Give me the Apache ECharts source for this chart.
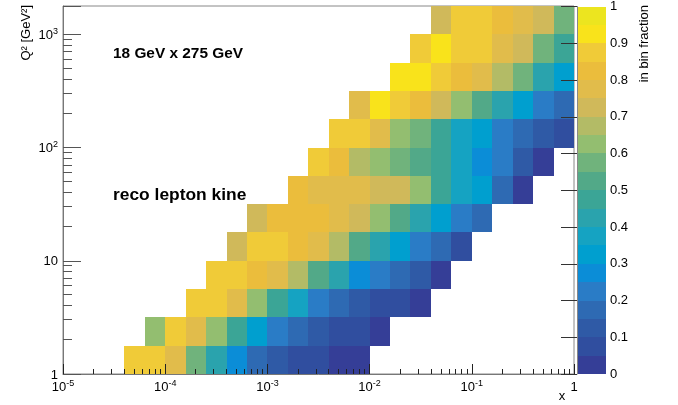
<!DOCTYPE html>
<html>
<head>
<meta charset="utf-8">
<script src="https://cdn.jsdelivr.net/npm/echarts@6/dist/echarts.min.js"></script>
<style>
  html, body { margin: 0; padding: 0; background: #fff; }
  #chart { width: 678px; height: 405px; }
</style>
</head>
<body>
<div id="chart"></div>
<script>
const FONT = '"Liberation Sans", Arial, Helvetica, sans-serif';

// binning: 25 log bins in x (1e-5 .. 1), 13 log bins in Q2 (1 .. 10^3.25)
const xEdges = Array.from({ length: 26 }, (_, k) => Math.pow(10, -5 + 0.2 * k));
const yEdges = Array.from({ length: 14 }, (_, k) => Math.pow(10, 0.25 * k));

// first filled x bin of every Q2 row, bottom row first
const rowFirstBin = [3, 4, 6, 7, 8, 9, 11, 12, 13, 14, 16, 17, 18];

// in bin fraction, one list per Q2 row (bottom row first)
const rowFraction = [
  [0.88, 0.88, 0.78, 0.58, 0.43, 0.28, 0.18, 0.13, 0.08, 0.08, 0.03, 0.03],
  [0.63, 0.88, 0.78, 0.63, 0.48, 0.33, 0.23, 0.18, 0.13, 0.08, 0.08, 0.03],
  [0.88, 0.88, 0.78, 0.63, 0.48, 0.38, 0.23, 0.18, 0.13, 0.08, 0.08, 0.03],
  [0.88, 0.88, 0.83, 0.78, 0.68, 0.53, 0.43, 0.28, 0.23, 0.18, 0.13, 0.03],
  [0.73, 0.88, 0.88, 0.83, 0.78, 0.68, 0.53, 0.43, 0.33, 0.23, 0.18, 0.08],
  [0.73, 0.83, 0.83, 0.83, 0.78, 0.73, 0.63, 0.53, 0.43, 0.33, 0.23, 0.18],
  [0.83, 0.78, 0.78, 0.78, 0.73, 0.73, 0.63, 0.48, 0.38, 0.33, 0.18, 0.03],
  [0.88, 0.83, 0.68, 0.63, 0.58, 0.53, 0.48, 0.38, 0.28, 0.23, 0.13, 0.03],
  [0.88, 0.88, 0.78, 0.63, 0.58, 0.48, 0.38, 0.33, 0.23, 0.18, 0.13, 0.08],
  [0.78, 0.93, 0.88, 0.83, 0.73, 0.63, 0.53, 0.43, 0.33, 0.23, 0.18],
  [0.93, 0.93, 0.88, 0.83, 0.78, 0.68, 0.58, 0.43, 0.33],
  [0.88, 0.93, 0.88, 0.88, 0.78, 0.73, 0.58, 0.48],
  [0.73, 0.88, 0.88, 0.83, 0.78, 0.73, 0.58]
];

// 20 contour levels of the palette, 0 -> 1
const levelColors = [
  '#353e97', '#304e9f', '#2f5aa6', '#2e6ab3', '#2a7cc6',
  '#0b8dd7', '#009fcf', '#15a3c2', '#2aa3ad', '#3ba596',
  '#52a988', '#70b37c', '#93be70', '#b3bb66', '#d0b95a',
  '#e1bc4b', '#ebbd3c', '#f0cb38', '#f9e31b', '#ece51f'
];
const levelEdges = levelColors.map((_, k) => k * 0.05);

// log minor ticks (2..9 per decade)
const xMinorTicks = [];
for (let d = -5; d < 0; d++) for (let m = 2; m <= 9; m++) xMinorTicks.push(m * Math.pow(10, d));
const yMinorTicks = [];
for (let d = 0; d < 3; d++) for (let m = 2; m <= 9; m++) yMinorTicks.push(m * Math.pow(10, d));

const cells = [];
rowFraction.forEach((row, j) => {
  row.forEach((v, k) => {
    const i = rowFirstBin[j] + k;
    cells.push([xEdges[i], xEdges[i + 1], yEdges[j], yEdges[j + 1], v]);
  });
});

function colorFor(v) {
  return levelColors[Math.min(levelColors.length - 1, Math.floor(v / 0.05 + 1e-9))];
}

function powLabel(v) {
  const e = Math.log10(v);
  const r = Math.round(e);
  if (Math.abs(e - r) > 1e-6) return '';
  if (r === 0) return '{b|1}';
  if (r === 1) return '{b|10}';
  return '{b|10}{s|' + r + '}';
}

const labelRich = {
  b: { fontFamily: FONT, fontSize: 13, color: '#000', lineHeight: 15, verticalAlign: 'bottom' },
  s: { fontFamily: FONT, fontSize: 9, color: '#000', verticalAlign: 'top' }
};

const chart = echarts.init(document.getElementById('chart'), null, { renderer: 'canvas' });

const option = {
  animation: false,
  backgroundColor: '#fff',
  grid: [
    { left: 63, top: 6, width: 511, height: 368, show: true, borderColor: '#888', borderWidth: 1 },
    { left: 577, top: 6, width: 29, height: 368 }
  ],
  xAxis: [
    {
      type: 'log', logBase: 10, min: 1e-5, max: 1, gridIndex: 0, z: 5,
      axisLine: { show: true, lineStyle: { color: '#777', width: 1 } },
      axisTick: { show: true, inside: true, length: 10, lineStyle: { color: '#222' } },
      axisLabel: { margin: 5, formatter: powLabel, rich: labelRich },
      splitLine: { show: false }
    },
    { type: 'value', min: 0, max: 1, gridIndex: 1, show: false }
  ],
  yAxis: [
    {
      type: 'log', logBase: 10, min: 1, max: Math.pow(10, 3.25), gridIndex: 0, z: 5,
      axisLine: { show: true, lineStyle: { color: '#777', width: 1 } },
      axisTick: { show: true, inside: true, length: 18, lineStyle: { color: '#555' } },
      axisLabel: { margin: 5, formatter: powLabel, rich: labelRich },
      splitLine: { show: false }
    },
    {
      type: 'value', min: 0, max: 1, interval: 0.1, gridIndex: 1, position: 'right', z: 5,
      axisLine: { show: true, lineStyle: { color: '#888', width: 1 } },
      axisTick: { show: true, inside: true, length: 16, lineStyle: { color: '#333' } },
      axisLabel: {
        margin: 4, fontFamily: FONT, fontSize: 13, color: '#000',
        formatter: v => String(Math.round(v * 10) / 10)
      },
      splitLine: { show: false }
    }
  ],
  series: [
    {
      type: 'custom', name: 'cells', xAxisIndex: 0, yAxisIndex: 0,
      encode: { x: [0, 1], y: [2, 3] },
      data: cells, silent: true,
      renderItem: (params, api) => {
        const p0 = api.coord([api.value(0), api.value(2)]);
        const p1 = api.coord([api.value(1), api.value(3)]);
        const x0 = Math.round(p0[0]), x1 = Math.round(p1[0]);
        const y0 = Math.round(p1[1]), y1 = Math.round(p0[1]);
        return {
          type: 'rect',
          shape: { x: x0, y: y0, width: x1 - x0, height: y1 - y0 },
          style: { fill: colorFor(api.value(4)) }
        };
      }
    },
    {
      type: 'custom', name: 'palette', xAxisIndex: 1, yAxisIndex: 1,
      data: levelEdges.map((lo, k) => [lo, k]), silent: true,
      renderItem: (params, api) => {
        const lo = api.value(0);
        const p0 = api.coord([0, lo]);
        const p1 = api.coord([1, lo + 0.05]);
        const y0 = Math.round(p1[1]), y1 = Math.round(p0[1]);
        return {
          type: 'rect',
          shape: { x: Math.round(p0[0]), y: y0, width: Math.round(p1[0]) - Math.round(p0[0]), height: y1 - y0 },
          style: { fill: levelColors[api.value(1)] }
        };
      }
    },
    {
      type: 'custom', name: 'xminor', xAxisIndex: 0, yAxisIndex: 0, z: 10, clip: false,
      data: xMinorTicks.map(v => [v, 1]), silent: true,
      renderItem: (params, api) => {
        const p = api.coord([api.value(0), api.value(1)]);
        const x = Math.round(p[0] - 0.5) + 0.5;
        return { type: 'line', shape: { x1: x, y1: p[1], x2: x, y2: p[1] - 5 }, style: { stroke: '#222', lineWidth: 1 } };
      }
    },
    {
      type: 'custom', name: 'yminor', xAxisIndex: 0, yAxisIndex: 0, z: 10, clip: false,
      data: yMinorTicks.map(v => [1e-5, v]), silent: true,
      renderItem: (params, api) => {
        const p = api.coord([api.value(0), api.value(1)]);
        const y = Math.round(p[1] - 0.5) + 0.5;
        return { type: 'line', shape: { x1: p[0], y1: y, x2: p[0] + 9, y2: y }, style: { stroke: '#555', lineWidth: 1 } };
      }
    }
  ],
  graphic: [
    {
      type: 'text', x: 113, y: 54,
      style: { text: '18 GeV x 275 GeV', fontFamily: FONT, fontSize: 15.4, fontWeight: 'bold', fill: '#000', align: 'left', verticalAlign: 'middle' }
    },
    {
      type: 'text', x: 113, y: 195,
      style: { text: 'reco lepton kine', fontFamily: FONT, fontSize: 17.4, fontWeight: 'bold', fill: '#000', align: 'left', verticalAlign: 'middle' }
    },
    {
      type: 'text', x: 26, y: 5, rotation: Math.PI / 2,
      style: { text: 'Q² [GeV²]', fontFamily: FONT, fontSize: 13, fill: '#000', align: 'right', verticalAlign: 'middle' }
    },
    {
      type: 'text', x: 562, y: 396,
      style: { text: 'x', fontFamily: FONT, fontSize: 13, fill: '#000', align: 'center', verticalAlign: 'middle' }
    },
    {
      type: 'text', x: 644, y: 5, rotation: Math.PI / 2,
      style: { text: 'in bin fraction', fontFamily: FONT, fontSize: 13, fill: '#000', align: 'right', verticalAlign: 'middle' }
    }
  ]
};

chart.setOption(option);
</script>
</body>
</html>
